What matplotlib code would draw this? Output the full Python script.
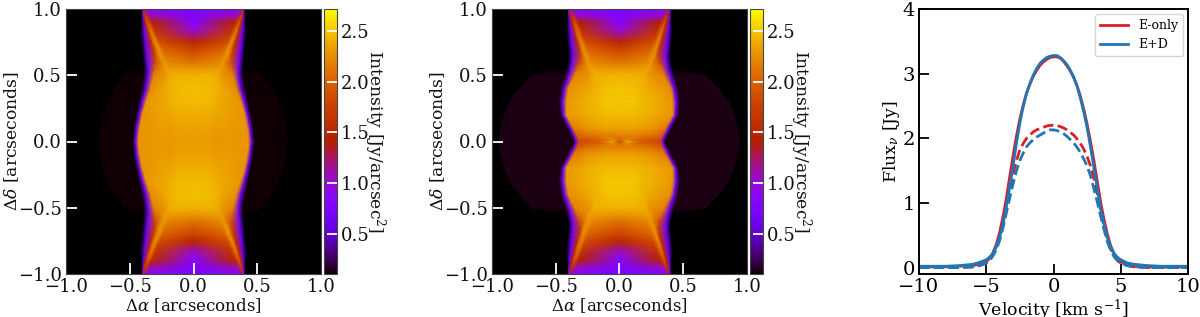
#!/usr/bin/env python
# Intensity maps (E-only, E+D) and line profiles
import numpy as np
import matplotlib
matplotlib.use("Agg")
import matplotlib.pyplot as plt

plt.rcParams["font.family"] = "DejaVu Serif"
plt.rcParams["mathtext.fontset"] = "dejavuserif"

# rows of the maps, |delta| in arcsec. the maps are mirrored in both directions
rows = [0, .012, .04, .1, .2, .3, .4, .5, .55, .6, .65, .7, .75, .8, .85, .9, .95, 1.0]

# E-only map: x of the knots along each row and intensity at the knots
e_mid_x = [.12, .12, .12, .12, .12, .12, .12, .14, .17, .195, .22, .24, .265, .285, .305, .325, .345, .36]
e_streak_x = [.19, .19, .19, .19, .19, .19, .19, .19, .215, .235, .26, .275, .30, .32, .34, .36, .375, .385]
e_ring_x = [.25, .25, .25, .25, .25, .25, .24, .22, .24, .26, .285, .30, .322, .338, .355, .37, .385, .39]
e_edge_x = [.43, .43, .43, .42, .40, .37, .335, .31, .30, .295, .30, .315, .33, .345, .36, .375, .39, .395]
e_fringe_x = [.455, .455, .45, .445, .425, .40, .37, .355, .355, .36, .365, .37, .375, .38, .385, .39, .397, .40]
e_fade_x = [.48, .48, .475, .47, .45, .43, .405, .39, .39, .395, .40, .405, .41, .415, .415, .41, .405, .405]
e_halo_x = [.735, .735, .735, .728, .707, .67, .617, .539, .49, .49, .49, .49, .49, .49, .49, .49, .49, .49]
e_center = [2.33, 2.33, 2.33, 2.35, 2.40, 2.46, 2.48, 2.42, 2.30, 2.10, 1.95, 1.75, 1.50, 1.20, .95, .80, .75, .72]
e_mid = [2.33, 2.33, 2.33, 2.35, 2.40, 2.45, 2.46, 2.42, 2.32, 2.20, 2.10, 2.00, 1.85, 1.70, 1.60, 1.45, 1.10, .85]
e_streak = [2.30, 2.30, 2.30, 2.32, 2.36, 2.40, 2.42, 2.40, 2.34, 2.30, 2.30, 2.28, 2.25, 2.20, 2.10, 1.95, 1.70, 1.20]
e_ring = [2.32, 2.32, 2.32, 2.33, 2.35, 2.37, 2.36, 2.30, 2.25, 2.15, 2.08, 1.98, 1.90, 1.85, 1.80, 1.70, 1.50, 1.05]
e_edge = [2.28, 2.28, 2.28, 2.28, 2.28, 2.28, 2.25, 2.20, 2.05, 1.90, 1.80, 1.70, 1.60, 1.60, 1.55, 1.50, 1.35, 1.00]
e_halo = [.115, .115, .115, .115, .115, .115, .115, .115, .10, .10, .10, .10, .10, .10, .10, .10, .10, .10]

# E+D map, same knots
d_mid_x = [.07, .05, .12, .12, .12, .12, .12, .14, .17, .20, .225, .245, .265, .285, .30, .32, .34, .36]
d_streak_x = [.11, .10, .19, .19, .19, .19, .19, .20, .235, .25, .27, .285, .30, .32, .335, .355, .37, .385]
d_ring_x = [.16, .16, .25, .25, .25, .25, .24, .23, .255, .27, .29, .305, .322, .338, .35, .365, .38, .39]
d_edge_x = [.315, .32, .33, .36, .415, .415, .40, .35, .33, .31, .30, .31, .325, .34, .355, .37, .385, .395]
d_fringe_x = [.34, .345, .355, .385, .44, .445, .43, .395, .38, .37, .365, .37, .375, .38, .385, .39, .397, .40]
d_fade_x = [.355, .36, .375, .41, .465, .475, .46, .43, .415, .405, .40, .405, .41, .415, .415, .41, .405, .405]
d_halo_x = [.94, .94, .94, .93, .90, .86, .78, .68, .50, .50, .50, .50, .50, .50, .50, .50, .50, .50]
d_center = [1.80, 2.00, 2.15, 2.35, 2.45, 2.50, 2.50, 2.42, 2.30, 2.10, 1.95, 1.75, 1.50, 1.20, .95, .80, .75, .72]
d_mid = [2.40, 2.25, 2.15, 2.35, 2.45, 2.50, 2.47, 2.42, 2.32, 2.20, 2.10, 2.00, 1.85, 1.70, 1.55, 1.40, 1.05, .85]
d_streak = [2.25, 2.05, 2.10, 2.32, 2.42, 2.44, 2.42, 2.40, 2.34, 2.30, 2.28, 2.25, 2.20, 2.15, 2.05, 1.90, 1.65, 1.20]
d_ring = [2.00, 2.00, 2.08, 2.30, 2.40, 2.42, 2.38, 2.30, 2.25, 2.15, 2.06, 1.95, 1.88, 1.82, 1.75, 1.65, 1.45, 1.05]
d_edge = [1.85, 1.85, 1.95, 2.15, 2.30, 2.30, 2.25, 2.20, 2.05, 1.90, 1.80, 1.70, 1.60, 1.60, 1.55, 1.50, 1.35, 1.00]
d_halo = [.135, .135, .135, .135, .135, .135, .135, .135, .10, .10, .10, .10, .10, .10, .10, .10, .10, .10]

# line profiles
vel = [-10, -8, -7, -6, -5.5, -5, -4.75, -4.5, -4.25, -4, -3.75, -3.5, -3.25, -3, -2.75, -2.5, -2.25, -2, -1.75, -1.5, -1.25, -1, -.75, -.5, -.25, 0,
       .25, .5, .75, 1, 1.25, 1.5, 1.75, 2, 2.25, 2.5, 2.75, 3, 3.25, 3.5, 3.75, 4, 4.25, 4.5, 4.75, 5, 5.5, 6, 7, 8, 10]
e_total = [.01, .01, .02, .03, .05, .09, .14, .23, .36, .55, .79, 1.08, 1.41, 1.74, 2.04, 2.30, 2.52, 2.70, 2.84, 2.96, 3.05, 3.13, 3.18, 3.22, 3.25, 3.26,
           3.26, 3.24, 3.19, 3.12, 3.04, 2.94, 2.81, 2.65, 2.45, 2.22, 1.95, 1.66, 1.34, 1.02, .75, .52, .34, .21, .13, .09, .04, .02, .01, .01, .01]
ed_total = [.02, .02, .03, .05, .08, .12, .16, .22, .32, .47, .68, .95, 1.25, 1.58, 1.93, 2.24, 2.49, 2.70, 2.85, 2.98, 3.08, 3.16, 3.21, 3.25, 3.27, 3.28,
            3.28, 3.25, 3.20, 3.14, 3.05, 2.95, 2.81, 2.62, 2.41, 2.16, 1.87, 1.55, 1.23, .92, .67, .46, .32, .22, .16, .12, .07, .05, .03, .02, .02]
e_dash = [.00, .00, .00, .01, .03, .07, .12, .20, .32, .48, .69, .92, 1.19, 1.45, 1.66, 1.82, 1.92, 2.00, 2.05, 2.10, 2.13, 2.15, 2.17, 2.19, 2.20, 2.20,
          2.20, 2.18, 2.16, 2.13, 2.09, 2.05, 1.99, 1.92, 1.83, 1.72, 1.57, 1.38, 1.14, .88, .65, .45, .29, .18, .11, .07, .03, .01, .00, .00, .00]
ed_dash = [.00, .00, .00, .01, .03, .07, .11, .18, .28, .42, .62, .85, 1.08, 1.30, 1.50, 1.66, 1.77, 1.87, 1.93, 1.98, 2.02, 2.05, 2.08, 2.11, 2.13, 2.13,
           2.12, 2.10, 2.07, 2.03, 1.98, 1.93, 1.86, 1.78, 1.68, 1.57, 1.42, 1.22, 1.02, .80, .59, .40, .27, .17, .11, .07, .03, .01, .00, .00, .00]

labels = ["E-only", "E+D"]
colors = ["#dc1e28", "#1f77b4"]
vmin, vmax = .1, 2.72
W, H = 1200., 317.


def pixel_axes(fig, left, right, top, bottom):
    return fig.add_axes([left/W, 1-bottom/H, (right-left)/W, (bottom-top)/H])


def draw_map(ax, cax, knots_x, knots_v):
    knots_x = np.column_stack(knots_x)
    knots_v = np.column_stack(knots_v)
    # mirror left-right, then up-down
    xx = np.hstack([-knots_x[:, :0:-1], knots_x])
    cc = np.hstack([knots_v[:, :0:-1], knots_v])
    xx = np.vstack([xx[:0:-1], xx])
    cc = np.vstack([cc[:0:-1], cc])
    yy = np.array(rows, dtype=float)
    yy = np.concatenate([-yy[:0:-1], yy])
    yy = np.repeat(yy[:, None], xx.shape[1], axis=1)
    ax.set_facecolor("black")
    m = ax.pcolormesh(xx, yy, cc, shading="gouraud", cmap="gnuplot", vmin=vmin, vmax=vmax, rasterized=True)
    ax.set_xlim(-1, 1)
    ax.set_ylim(-1, 1)
    ax.set_xticks([-1, -.5, 0, .5, 1])
    ax.set_yticks([-1, -.5, 0, .5, 1])
    ax.tick_params(direction="in", colors="white", length=8, width=1.3, labelsize=13, labelcolor="#111111", pad=3)
    for axis in [ax.xaxis, ax.yaxis]:
        ticks = axis.get_major_ticks()
        ticks[0].tick1line.set_visible(False)
        ticks[-1].tick1line.set_visible(False)
    ax.set_xlabel(r"$\Delta\alpha$ [arcseconds]", fontsize=12, labelpad=0, color="#111111")
    ax.set_ylabel(r"$\Delta\delta$ [arcseconds]", fontsize=12.3, labelpad=-2, color="#111111")
    for s in ax.spines.values():
        s.set_color("#444444")
    cb = plt.colorbar(m, cax=cax)
    cb.set_ticks([.5, 1, 1.5, 2, 2.5])
    cb.ax.tick_params(direction="in", color="white", length=7, width=1.3, labelsize=13, labelcolor="#111111", pad=3)
    cb.outline.set_edgecolor("#444444")
    cb.set_label(r"Intensity [Jy/arcsec$^2$]", rotation=270, fontsize=12.3, labelpad=13, color="#111111")


zeros = [0.0]*len(rows)
ones = [1.0]*len(rows)


def knots(mid_x, streak_x, ring_x, edge_x, fringe_x, fade_x, halo_x, center, mid, streak, ring, edge, halo):
    halo_end = np.array(halo_x)+.006
    floor = [vmin]*len(rows)
    fringe = [.62]*len(rows)
    xs = [zeros, mid_x, streak_x, ring_x, edge_x, fringe_x, fade_x, halo_x, halo_end, ones]
    vs = [center, mid, streak, ring, edge, fringe, halo, halo, floor, floor]
    return xs, vs


fig = plt.figure(figsize=(12, 3.17), dpi=100)

ax1 = pixel_axes(fig, 66, 321, 9, 274)
cax1 = pixel_axes(fig, 323.5, 337, 9, 274)
draw_map(ax1, cax1, *knots(e_mid_x, e_streak_x, e_ring_x, e_edge_x, e_fringe_x, e_fade_x, e_halo_x,
                           e_center, e_mid, e_streak, e_ring, e_edge, e_halo))

ax2 = pixel_axes(fig, 492, 747, 9, 274)
cax2 = pixel_axes(fig, 749.5, 763, 9, 274)
draw_map(ax2, cax2, *knots(d_mid_x, d_streak_x, d_ring_x, d_edge_x, d_fringe_x, d_fade_x, d_halo_x,
                           d_center, d_mid, d_streak, d_ring, d_edge, d_halo))

ax3 = pixel_axes(fig, 919, 1188, 9, 274)
ax3.plot(vel, e_total, color=colors[0], lw=2, label=labels[0])
ax3.plot(vel, e_dash, color=colors[0], lw=2, ls="--")
ax3.plot(vel, ed_total, color=colors[1], lw=2, label=labels[1])
ax3.plot(vel, ed_dash, color=colors[1], lw=2, ls="--")
ax3.set_xlim(-10, 10)
ax3.set_ylim(-.1, 4)
ax3.set_xticks([-10, -5, 0, 5, 10])
ax3.set_yticks([0, 1, 2, 3, 4])
ax3.tick_params(direction="in", length=7, width=1.3, labelsize=14, pad=3)
ax3.set_xlabel(r"Velocity [km s$^{-1}$]", fontsize=12.5, labelpad=1)
ax3.set_ylabel(r"Flux$_\nu$ [Jy]", fontsize=12.5, labelpad=0)
for s in ax3.spines.values():
    s.set_linewidth(1.4)
ax3.legend(loc="upper right", fontsize=9, handlelength=2.2, borderaxespad=.4)

fig.savefig("out.png", dpi=100)
